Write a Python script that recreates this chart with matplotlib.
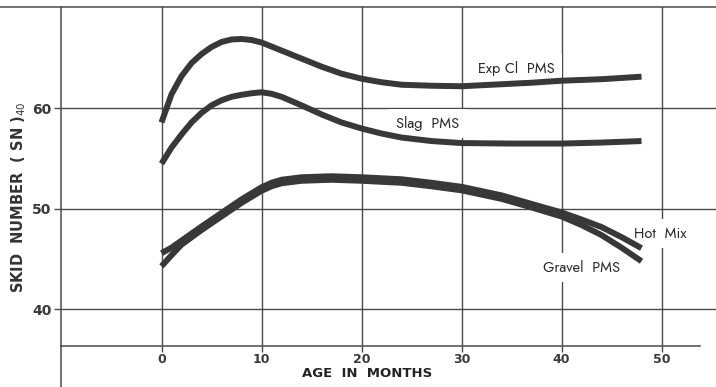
import matplotlib
matplotlib.use("Agg")
import matplotlib.pyplot as plt
from matplotlib.lines import Line2D

# skid number vs age
exp_months = [0, 1, 2, 3, 4, 5, 6, 7, 8, 9, 10, 11, 12, 14, 16, 18, 20, 22, 24, 27, 30, 34, 37, 40, 44, 48]
exp_sn = [58.6, 61.4, 63.2, 64.5, 65.4, 66.1, 66.6, 66.85, 66.9, 66.8, 66.55, 66.15, 65.75, 64.95,
          64.15, 63.45, 62.95, 62.6, 62.35, 62.25, 62.2, 62.4, 62.55, 62.75, 62.9, 63.15]

slag_months = [0, 1, 2, 3, 4, 5, 6, 7, 8, 9, 10, 11, 12, 14, 16, 18, 20, 22, 24, 27, 30, 35, 40, 44, 48]
slag_sn = [54.5, 56.1, 57.4, 58.6, 59.55, 60.3, 60.8, 61.15, 61.35, 61.5, 61.6, 61.45, 61.15, 60.3,
           59.4, 58.6, 58.0, 57.5, 57.1, 56.75, 56.55, 56.5, 56.5, 56.6, 56.75]

mix_months = [0, 1, 2, 4, 6, 8, 10, 11, 12, 14, 17, 20, 24, 27, 30, 34, 37, 40, 42, 44, 46, 48]
hotmix_sn = [45.6, 46.15, 46.85, 48.25, 49.6, 50.95, 52.15, 52.6, 52.9, 53.15, 53.25, 53.15, 52.95,
             52.6, 52.2, 51.35, 50.5, 49.65, 48.95, 48.2, 47.2, 46.1]
gravel_sn = [44.3, 45.4, 46.45, 47.9, 49.25, 50.6, 51.8, 52.25, 52.55, 52.8, 52.9, 52.8, 52.6,
             52.25, 51.85, 51.0, 50.15, 49.25, 48.4, 47.4, 46.15, 44.8]

x_ticks = [0, 10, 20, 30, 40, 50]
y_ticks = [40, 50, 60]

grid_col = "#4a4a4a"
line_col = "#383838"
txt_col = "#3a3a3a"
geo = ["Jost", "Lato", "DejaVu Sans"]

fig = plt.figure(figsize=(7.16, 3.87), dpi=100)
ax = fig.add_axes([61 / 716, 41 / 387, 655 / 716, 339 / 387])
ax.set_xlim(-10.05, 55.45)
ax.set_ylim(36.37, 70.08)

for s in ["right", "top"]:
    ax.spines[s].set_visible(False)
ax.spines["left"].set_color(grid_col)
ax.spines["left"].set_linewidth(1.1)
ax.spines["bottom"].set_color(grid_col)
ax.spines["bottom"].set_linewidth(1.1)
ax.spines["bottom"].set_bounds(-10.05, 53.8)

# frame lines that run past the axes
fig.add_artist(Line2D([0, 1], [380 / 387, 380 / 387], color=grid_col, lw=1.1))
fig.add_artist(Line2D([61 / 716, 61 / 716], [0, 41 / 387], color=grid_col, lw=1.1))

for v in x_ticks:
    ax.axvline(v, color=grid_col, lw=1.0, zorder=1)
for v in y_ticks:
    ax.axhline(v, color=grid_col, lw=1.0, zorder=1)

kw = dict(color=line_col, lw=4.3, solid_capstyle="butt", solid_joinstyle="round", zorder=3)
ax.plot(exp_months, exp_sn, **kw)
ax.plot(slag_months, slag_sn, **kw)
ax.plot(mix_months, hotmix_sn, **kw)
ax.plot(mix_months, gravel_sn, **kw)

box = dict(facecolor="white", edgecolor="none", pad=5)
lab = dict(family=geo, fontsize=10.5, color="#2a2a2a", fontweight="heavy", ha="center", va="center",
           bbox=box, zorder=2)
ax.text(35.5, 64.0, "Exp Cl  PMS", **lab)
ax.text(26.6, 58.5, "Slag  PMS", **lab)
ax.text(49.9, 47.6, "Hot  Mix", **lab)
ax.text(42.0, 44.2, "Gravel  PMS", **lab)

ax.set_xticks(x_ticks)
ax.set_xticklabels([str(v) for v in x_ticks], fontsize=9, fontweight="bold", color=txt_col)
ax.set_yticks(y_ticks)
ax.set_yticklabels([str(v) for v in y_ticks], fontsize=10, fontweight="bold", color=txt_col)
ax.tick_params(axis="x", length=4, width=1, color=grid_col, pad=1)
ax.tick_params(axis="y", length=5, width=1, color=grid_col, pad=2)

ax.set_xlabel("AGE  IN  MONTHS", fontsize=9.5, fontweight="bold", color="#222222")
ax.xaxis.set_label_coords(0.467, -0.062)
ax.set_ylabel("SKID  NUMBER  ( SN )$_{40}$", fontsize=10.5, fontweight="bold", color="#333333")
ax.yaxis.set_label_coords(-0.05, 0.44)

fig.savefig("out.png", dpi=100)
